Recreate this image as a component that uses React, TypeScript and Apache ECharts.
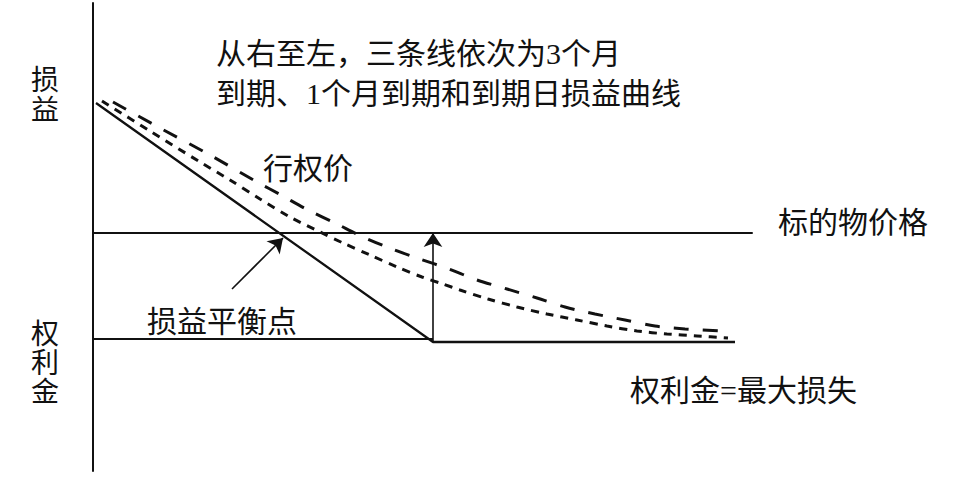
import { useRef, useEffect } from 'react'
import * as echarts from 'echarts'

// 坐标单位：横轴为标的物价格，纵轴为损益（任意单位）
const STRIKE = 34
const PREMIUM_LEVEL = -10.6
const EXPIRY_LOSS = -10.9

// 到期日损益曲线（实线）
const expiryCurve: [number, number][] = [
  [0.3, 13.0],
  [STRIKE, EXPIRY_LOSS],
  [64.2, EXPIRY_LOSS],
]

// 1个月到期（短虚线）
const oneMonthCurve: [number, number][] = [
  [0.9, 13.2], [5.7, 10.2], [10.7, 7.1], [13.7, 5.3], [16.7, 3.4], [19.7, 1.6],
  [22.7, 0.1], [25.0, -1.0], [27.7, -2.2], [30.4, -3.4], [32.9, -4.4], [35.0, -5.1],
  [36.7, -5.7], [39.5, -6.6], [42.4, -7.4], [45.4, -8.1], [48.4, -8.7], [51.4, -9.3],
  [54.4, -9.8], [57.4, -10.1], [60.4, -10.3], [63.5, -10.5],
]

// 3个月到期（长虚线）
const threeMonthCurve: [number, number][] = [
  [2.0, 13.1], [6.7, 10.5], [11.7, 7.8], [16.4, 5.1], [18.8, 3.8], [21.5, 2.3],
  [24.2, 1.0], [27.0, -0.4], [29.9, -1.6], [32.7, -2.6], [35.6, -3.6], [38.4, -4.7],
  [41.4, -5.6], [44.4, -6.5], [47.2, -7.4], [50.2, -8.1], [53.2, -8.7], [56.2, -9.3],
  [59.2, -9.6], [63.0, -9.8],
]

// 权利金水平线
const premiumLine: [number, number][] = [
  [0, PREMIUM_LEVEL],
  [STRIKE, PREMIUM_LEVEL],
]

// 箭头：行权价处的竖向箭头、指向损益平衡点的斜箭头
const strikeArrow: [number, number][] = [[STRIKE, EXPIRY_LOSS], [STRIKE, 0]]
const breakevenArrow: [number, number][] = [[13.9, -5.6], [19.0, -0.5]]

const X_MAX = 65.9
const Y_MIN = -23.8
const Y_MAX = 23

const INK = '#111'
const FONT = "'Liberation Serif', 'Noto Sans CJK SC', sans-serif"

function label(text: string, x: number, top: number, fontSize = 30, lineHeight?: number) {
  return {
    type: 'text',
    x,
    y: top,
    silent: true,
    style: {
      text,
      fill: INK,
      fontSize,
      fontFamily: FONT,
      lineHeight: lineHeight ?? fontSize,
    },
  }
}

export default function App() {
  const chartRef = useRef<HTMLDivElement>(null)

  useEffect(() => {
    if (!chartRef.current) return
    const chart = echarts.init(chartRef.current, undefined, { renderer: 'svg' })

    const option = {
      animation: false,
      backgroundColor: '#fff',
      grid: { left: 93, top: 3, right: 202, bottom: 27 },
      xAxis: {
        type: 'value',
        min: 0,
        max: X_MAX,
        axisLine: { show: true, onZero: true, lineStyle: { color: INK, width: 2 } },
        axisTick: { show: false },
        axisLabel: { show: false },
        splitLine: { show: false },
      },
      yAxis: {
        type: 'value',
        min: Y_MIN,
        max: Y_MAX,
        axisLine: { show: true, lineStyle: { color: INK, width: 2 } },
        axisTick: { show: false },
        axisLabel: { show: false },
        splitLine: { show: false },
      },
      series: [
        {
          name: '权利金',
          type: 'line',
          data: premiumLine,
          symbol: 'none',
          silent: true,
          lineStyle: { color: INK, width: 2 },
        },
        {
          name: '到期日',
          type: 'line',
          data: expiryCurve,
          symbol: 'none',
          silent: true,
          lineStyle: { color: INK, width: 2.3 },
        },
        {
          name: '1个月到期',
          type: 'line',
          data: oneMonthCurve,
          symbol: 'none',
          smooth: 0.3,
          silent: true,
          lineStyle: { color: INK, width: 3, type: [8, 7] },
        },
        {
          name: '3个月到期',
          type: 'line',
          data: threeMonthCurve,
          symbol: 'none',
          smooth: 0.3,
          silent: true,
          lineStyle: { color: INK, width: 3, type: [15, 14] },
        },
        {
          name: 'arrows',
          type: 'line',
          data: [],
          silent: true,
          markLine: {
            silent: true,
            symbol: ['none', 'arrow'],
            symbolSize: 14,
            label: { show: false },
            emphasis: { disabled: true },
            lineStyle: { color: INK, width: 1.6, type: 'solid' },
            data: [
              [{ coord: strikeArrow[0] }, { coord: strikeArrow[1] }],
              [{ coord: breakevenArrow[0] }, { coord: breakevenArrow[1] }],
            ],
          },
        },
      ],
      graphic: [
        label('从右至左，三条线依次为3个月\n到期、1个月到期和到期日损益曲线', 216, 33, 30, 40),
        label('行权价', 263, 153),
        label('标的物价格', 778, 207),
        label('损益平衡点', 147, 306),
        label('权利金=最大损失', 630, 375),
        label('损\n益', 31, 65, 28, 30),
        label('权\n利\n金', 31, 320, 28, 29),
      ],
    }

    chart.setOption(option as any)

    return () => {
      chart.dispose()
    }
  }, [])

  return (
    <div
      ref={chartRef}
      style={{ position: 'absolute', left: 0, top: 0, width: 954, height: 498 }}
    />
  )
}
